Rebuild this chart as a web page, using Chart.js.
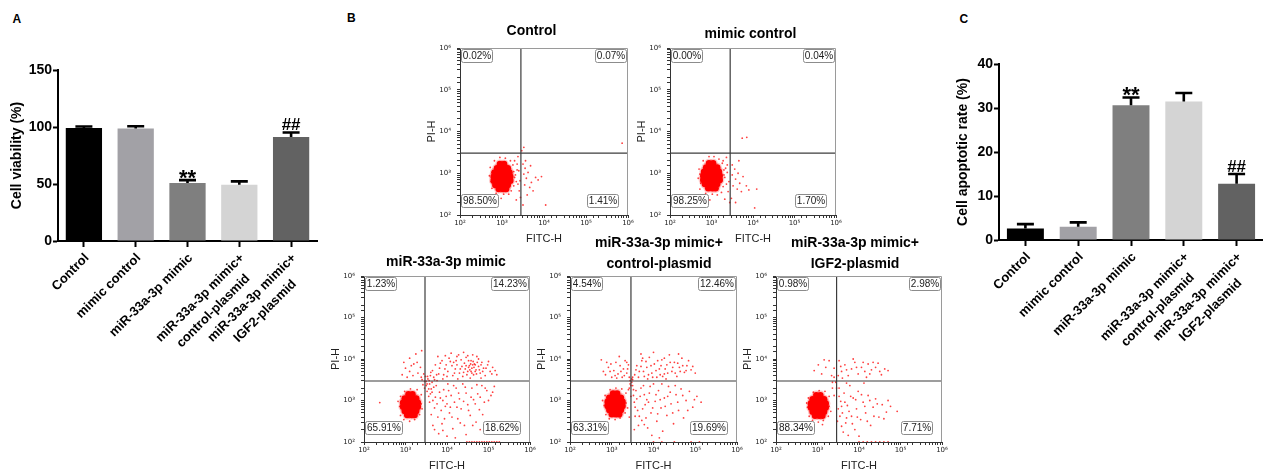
<!DOCTYPE html>
<html><head><meta charset="utf-8">
<script src="https://cdn.jsdelivr.net/npm/chart.js@4.4.1/dist/chart.umd.min.js"></script>
<style>
html,body{margin:0;padding:0;background:#fff;overflow:hidden;width:1263px;height:469px;}
#root{position:relative;width:1263px;height:469px;overflow:hidden;}
canvas{position:absolute;}
.lbl{position:absolute;font:bold 12px 'Liberation Sans',Arial,sans-serif;line-height:12px;color:#000;}
</style></head><body>
<div id="root">
<div class="lbl" style="left:12.5px;top:13.4px">A</div>
<div class="lbl" style="left:347px;top:11.5px">B</div>
<div class="lbl" style="left:959.5px;top:13.4px">C</div>
</div>
<script>
// ---------- DATA ----------
const groupLabels = ['Control', 'mimic control', 'miR-33a-3p mimic', ['miR-33a-3p mimic+', 'control-plasmid'], ['miR-33a-3p mimic+', 'IGF2-plasmid']];

const viabilityMean = [99.2, 98.7, 50.8, 49.3, 91.3];
const viabilitySD = [1.2, 2.0, 2.6, 3.0, 3.9];
const viabilitySig = ['', '', '**', '', '##'];
const viabilityTicks = [0, 50, 100, 150];

const apoptosisMean = [2.6, 3.0, 30.6, 31.5, 12.8];
const apoptosisSD = [1.0, 1.0, 1.8, 1.9, 2.2];
const apoptosisSig = ['', '', '**', '', '##'];
const apoptosisTicks = [0, 10, 20, 30, 40];

const flowTitles = [['Control'], ['mimic control'], ['miR-33a-3p mimic'], ['miR-33a-3p mimic+', 'control-plasmid'], ['miR-33a-3p mimic+', 'IGF2-plasmid']];
// quadrant percentages: [upper-left, upper-right, lower-left, lower-right]
const flowQuadrants = [
  ['0.02%', '0.07%', '98.50%', '1.41%'],
  ['0.00%', '0.04%', '98.25%', '1.70%'],
  ['1.23%', '14.23%', '65.91%', '18.62%'],
  ['4.54%', '12.46%', '63.31%', '19.69%'],
  ['0.98%', '2.98%', '88.34%', '7.71%']
];
const flowDecades = [2, 3, 4, 5, 6];                 // log10 tick decades
const flowGateFITC = [3.45, 3.45, 3.47, 3.46, 3.46]; // log10 gate positions
const flowGatePI = [3.48, 3.48, 3.47, 3.47, 3.47];

// events, as [log10 FITC-H, log10 PI-H]
const ctrlCore = [[2.95,3.22],[3.05,3.22],[2.88,3.12],[2.98,3.12],[3.08,3.12],[3.14,3.12],[2.82,3.02],[2.92,3.02],[3.02,3.02],[3.12,3.02],[3.18,3.02],[2.80,2.92],[2.90,2.92],[3.00,2.92],[3.10,2.92],[3.20,2.92],[2.80,2.82],[2.90,2.82],[3.00,2.82],[3.10,2.82],[3.20,2.82],[2.84,2.72],[2.94,2.72],[3.04,2.72],[3.14,2.72],[2.92,2.62],[3.02,2.62],[3.10,2.62]];
const ctrlSpread = [[2.76,3.02],[2.74,2.80],[2.82,3.30],[2.86,2.52],[2.95,3.38],[3.08,3.36],[3.20,3.30],[3.26,3.20],[3.28,3.04],[3.30,2.90],[3.28,2.70],[3.22,2.58],[3.16,2.50],[3.04,2.50],[2.76,2.64],[3.40,3.06],[3.43,2.82],[3.41,2.58],[3.38,3.40],[3.50,3.22],[3.52,2.98],[3.54,2.72],[3.55,3.12],[3.58,2.88],[3.52,3.62],[3.47,3.54],[3.62,3.02],[3.66,2.66],[3.70,2.78],[3.74,2.58],[3.68,3.18],[3.80,2.90],[3.86,2.84],[3.94,2.92],[4.04,2.24],[3.50,2.24],[3.44,2.42],[3.60,2.48],[3.56,3.30],[5.86,3.72],[3.34,2.36],[2.98,2.40],[3.38,2.74],[3.36,3.22],[3.32,2.96],[3.34,2.80],[3.36,3.08],[3.30,3.30],[2.70,2.94],[2.72,3.14]];
const mimicCtrlCore = [[2.94,3.24],[3.04,3.24],[2.87,3.14],[2.97,3.14],[3.07,3.14],[3.14,3.14],[2.82,3.04],[2.92,3.04],[3.02,3.04],[3.12,3.04],[3.18,3.04],[2.80,2.94],[2.90,2.94],[3.00,2.94],[3.10,2.94],[3.20,2.94],[2.80,2.84],[2.90,2.84],[3.00,2.84],[3.10,2.84],[3.20,2.84],[2.84,2.74],[2.94,2.74],[3.04,2.74],[3.14,2.74],[2.92,2.64],[3.02,2.64],[3.10,2.64]];
const mimicCtrlSpread = [[2.72,2.98],[2.74,2.76],[2.80,3.30],[2.86,2.52],[2.94,3.40],[3.06,3.40],[3.18,3.34],[3.26,3.24],[3.30,3.08],[3.32,2.90],[3.28,2.68],[3.24,2.54],[3.14,2.48],[3.02,2.50],[2.72,2.62],[3.38,3.02],[3.42,2.80],[3.40,2.56],[3.36,3.38],[3.50,3.20],[3.50,2.96],[3.52,2.70],[3.56,3.10],[3.58,2.86],[3.62,2.62],[3.64,3.00],[3.68,2.76],[3.72,2.56],[3.76,2.92],[3.66,3.30],[3.84,2.70],[3.90,2.60],[3.48,2.40],[3.44,2.30],[3.58,2.30],[4.09,2.62],[4.04,2.17],[3.74,3.84],[3.85,3.86],[3.32,2.38],[2.96,2.36],[3.36,2.74],[3.38,3.20],[3.30,2.96],[3.34,3.12],[3.28,3.30],[2.68,2.88],[2.70,3.10]];
const mimicCore = [[3.07,3.15],[3.17,3.15],[2.98,3.05],[3.08,3.05],[3.18,3.05],[3.26,3.05],[2.94,2.95],[3.04,2.95],[3.14,2.95],[3.24,2.95],[3.30,2.95],[2.94,2.85],[3.04,2.85],[3.14,2.85],[3.24,2.85],[3.30,2.85],[2.98,2.75],[3.08,2.75],[3.18,2.75],[3.26,2.75],[3.04,2.65],[3.14,2.65],[3.22,2.65]];
const mimicSpread = [[2.88,3.10],[2.86,2.86],[2.88,2.64],[2.96,2.54],[3.10,2.50],[3.22,2.54],[3.34,2.66],[3.38,2.92],[3.38,3.14],[3.28,3.26],[3.12,3.28],[2.98,3.22],[2.82,2.98],[3.40,2.80],[2.38,2.95],
[3.42,3.38],[3.46,3.30],[3.50,3.46],[3.48,3.58],[3.54,3.52],[3.58,3.40],[3.40,3.50],[3.44,3.64],[3.60,3.60],[3.52,3.22],[3.56,3.10],[3.62,3.28],
[2.92,3.62],[3.00,3.78],[3.10,3.70],[3.20,3.88],[3.30,3.66],[3.36,3.80],[3.10,4.02],[3.25,4.12],[2.96,3.92],[3.39,4.20],[3.04,3.56],[3.18,3.60],[3.28,3.92],[3.38,3.56],[3.14,3.84],
[3.65,3.72],[3.72,3.86],[3.80,3.64],[3.88,3.96],[3.95,3.76],[4.00,3.58],[4.05,4.02],[4.12,3.84],[4.18,3.66],[4.22,3.96],[4.28,4.10],[4.32,3.76],[4.38,3.58],[4.42,3.90],[4.46,4.04],[4.50,3.70],[4.54,3.84],[4.58,3.96],[4.60,3.78],[4.64,3.62],[4.66,3.88],[4.70,3.74],[4.72,4.06],[4.76,3.82],[4.80,3.66],[4.84,3.92],[4.88,3.78],[4.92,3.60],[4.98,3.86],[5.04,3.70],[5.10,3.80],[5.20,3.62],[3.90,3.52],[4.26,3.52],[4.56,3.54],[4.82,3.54],[4.10,4.14],[4.40,4.16],[4.62,4.10],[3.78,4.06],[4.52,3.80],[4.68,3.70],[4.58,3.70],[4.62,3.86],[4.44,3.76],
[3.46,3.46],[3.50,3.36],[3.53,3.58],[3.57,3.48],[3.61,3.68],[3.64,3.44],[3.68,3.56],[3.70,3.50],[3.75,3.62],[3.76,3.48],[3.82,3.78],[3.84,3.90],[3.92,3.62],[3.98,3.86],[4.02,3.70],[4.08,3.94],[4.14,3.60],[4.16,3.92],[4.20,3.76],[4.24,3.86],[4.30,3.66],[4.34,3.98],[4.36,3.82],[4.40,3.68],[4.46,3.84],[4.48,3.62],[4.52,3.96],[4.55,3.74],[4.57,3.88],[4.60,3.66],[4.63,3.94],[4.65,3.80],[4.68,3.86],[4.71,3.64],[4.73,3.92],[4.78,3.74],[4.82,3.86],[4.86,3.70],[4.94,3.78],[5.00,3.94],[5.08,3.64],[5.16,3.72],[4.50,4.08],[4.24,4.06],[3.96,4.08],[4.76,4.00],
[3.58,2.96],[3.64,3.20],[3.70,2.82],[3.74,3.36],[3.78,2.60],[3.84,3.06],[3.88,2.44],[3.92,3.26],[3.96,2.86],[4.02,3.40],[4.06,2.70],[4.10,3.12],[4.14,2.32],[4.18,2.96],[4.22,3.30],[4.26,2.56],[4.30,3.04],[4.34,2.80],[4.38,3.40],[4.42,2.40],[4.46,3.18],[4.50,2.90],[4.56,2.64],[4.60,3.30],[4.64,3.02],[4.70,2.48],[4.74,3.16],[4.78,2.78],[4.84,3.36],[4.90,2.96],[4.96,3.24],[5.06,3.12],[5.14,3.34],[3.66,2.40],[3.80,2.20],[4.00,2.14],[4.20,2.10],[3.62,2.66],[3.72,3.08],[3.98,3.10],
[3.52,3.40],[3.56,3.28],[3.60,3.16],[3.66,3.00],[3.68,3.32],[3.76,2.92],[3.82,3.20],[3.86,2.76],[3.90,3.00],[3.94,2.56],[4.00,2.92],[4.04,3.24],[4.08,2.84],[4.12,2.60],[4.16,3.36],[4.24,2.84],[4.28,3.18],[4.32,2.46],[4.40,2.98],[4.44,3.32],[4.52,2.76],[4.58,3.08],[4.62,2.40],[4.68,2.92],[4.72,3.38],[4.80,3.08],[4.86,2.66],[4.92,3.30],[5.00,3.00],[5.10,3.20],[3.70,2.30],[3.90,2.28],[4.46,2.18],[4.80,2.30],
[4.48,2.0],[4.54,2.0],[4.60,2.0],[4.66,2.0],[4.72,2.0],[4.78,2.0],[4.84,2.0],[4.90,2.0],[4.96,2.0],[5.02,2.0],[5.08,2.0],[5.14,2.0],[5.20,2.0],[5.26,2.0]];
const plasmidCore = [[3.03,3.17],[3.13,3.17],[2.94,3.07],[3.04,3.07],[3.14,3.07],[3.22,3.07],[2.90,2.97],[3.00,2.97],[3.10,2.97],[3.20,2.97],[3.26,2.97],[2.90,2.87],[3.00,2.87],[3.10,2.87],[3.20,2.87],[3.26,2.87],[2.94,2.77],[3.04,2.77],[3.14,2.77],[3.22,2.77],[3.00,2.67],[3.10,2.67],[3.18,2.67]];
const plasmidSpread = [[2.84,3.12],[2.82,2.88],[2.86,2.66],[2.94,2.56],[3.08,2.54],[3.20,2.58],[3.32,2.70],[3.34,2.94],[3.34,3.18],[3.24,3.28],[3.10,3.30],[2.96,3.26],[2.78,3.00],[3.38,2.82],[3.40,3.26],[3.44,3.40],[3.46,3.10],[3.48,3.52],[3.42,2.60],
[2.75,3.98],[2.85,3.62],[2.92,3.80],[3.00,3.56],[3.05,3.72],[3.10,3.92],[3.15,3.64],[3.20,3.84],[3.25,3.56],[3.28,3.76],[3.32,3.96],[3.36,3.66],[3.40,3.86],[3.42,3.56],[2.96,3.70],[3.12,3.54],[3.22,3.70],[3.38,3.76],[2.88,3.92],[3.18,4.06],[2.80,3.70],[2.98,3.88],[3.08,3.60],[3.30,3.60],[3.36,3.92],
[3.55,3.62],[3.60,3.84],[3.66,3.70],[3.72,3.96],[3.78,3.58],[3.84,3.80],[3.90,4.04],[3.96,3.66],[4.02,3.88],[4.08,3.56],[4.14,3.76],[4.20,3.98],[4.26,3.64],[4.32,3.86],[4.38,4.10],[4.44,3.70],[4.50,3.92],[4.56,3.58],[4.62,3.80],[4.68,4.02],[4.74,3.68],[4.80,3.84],[4.90,3.74],[5.00,3.66],[3.70,4.12],[4.00,4.16],[4.30,3.52],[4.60,4.12],[3.86,3.52],[4.16,3.62],
[3.50,3.50],[3.58,3.74],[3.64,3.56],[3.70,3.82],[3.76,3.70],[3.82,3.94],[3.88,3.62],[3.94,3.84],[3.98,3.56],[4.06,3.72],[4.10,3.96],[4.18,3.84],[4.22,3.58],[4.28,3.76],[4.34,3.66],[4.40,3.92],[4.46,3.80],[4.52,3.66],[4.58,3.90],[4.64,3.70],[4.70,3.84],[4.78,3.72],[4.84,3.96],[4.94,3.82],[3.74,4.02],[4.26,4.02],
[3.44,3.48],[3.48,3.44],[3.46,3.36],[3.50,3.56],[3.42,3.30],[3.52,3.26],
[3.54,2.96],[3.58,3.24],[3.62,2.76],[3.68,3.10],[3.72,2.52],[3.76,3.36],[3.80,2.90],[3.86,2.34],[3.90,3.18],[3.94,2.70],[4.00,3.40],[4.04,2.98],[4.08,2.50],[4.12,3.24],[4.18,2.82],[4.22,2.26],[4.26,3.06],[4.32,2.64],[4.36,3.34],[4.42,2.92],[4.48,2.44],[4.54,3.14],[4.60,2.76],[4.66,3.28],[4.72,2.58],[4.78,3.00],[4.86,3.22],[4.94,2.84],[5.04,3.10],[5.14,2.96],[3.64,2.40],[3.96,2.16],[4.14,2.10],[3.56,2.62],[3.84,3.02],[4.40,3.20],
[3.50,3.36],[3.52,3.12],[3.56,2.84],[3.60,3.04],[3.66,2.62],[3.70,3.30],[3.74,2.80],[3.78,3.14],[3.82,2.58],[3.88,2.96],[3.92,3.34],[3.98,2.82],[4.06,3.14],[4.10,2.68],[4.16,3.02],[4.20,3.40],[4.28,2.86],[4.34,3.10],[4.46,2.70],[4.52,3.36],[4.58,2.96],[4.70,3.12],[4.82,2.76],[4.98,3.02],[3.54,2.30],[3.78,2.42],
[4.00,2.0],[4.20,2.0],[4.50,2.0],[4.90,2.0],[5.10,2.0]];
const igf2Core = [[2.97,3.13],[3.07,3.13],[2.88,3.03],[2.98,3.03],[3.08,3.03],[3.16,3.03],[2.84,2.93],[2.94,2.93],[3.04,2.93],[3.14,2.93],[3.20,2.93],[2.84,2.83],[2.94,2.83],[3.04,2.83],[3.14,2.83],[3.20,2.83],[2.88,2.73],[2.98,2.73],[3.08,2.73],[3.16,2.73],[2.94,2.63],[3.04,2.63],[3.12,2.63]];
const igf2Spread = [[2.78,3.06],[2.76,2.84],[2.80,2.62],[2.88,2.52],[3.02,2.48],[3.14,2.52],[3.26,2.62],[3.28,2.86],[3.28,3.10],[3.18,3.22],[3.04,3.24],[2.90,3.20],[2.74,2.94],[3.32,2.74],[3.12,2.42],[3.36,3.30],[3.40,3.12],
[2.92,3.72],[3.02,3.86],[3.10,3.64],[3.20,3.80],[3.28,3.96],[3.34,3.60],[3.40,3.78],[3.16,3.98],
[3.52,3.96],[3.58,3.70],[3.66,3.86],[3.74,3.60],[3.82,3.76],[3.90,3.92],[3.98,3.64],[4.06,3.80],[4.14,3.70],[4.22,3.88],[4.30,3.74],[4.40,3.80],[4.50,3.70],[4.62,3.76],[3.60,3.54],[4.18,3.56],[3.86,4.00],[4.34,3.92],[4.70,3.72],
[3.50,3.60],[3.56,3.82],[3.70,3.74],[3.94,3.80],[4.10,3.92],[4.26,3.64],[4.46,3.90],[4.54,3.62],
[3.44,3.44],[3.40,3.56],[3.46,3.30],[3.36,3.44],
[3.52,3.30],[3.56,2.98],[3.60,2.70],[3.64,3.18],[3.68,2.46],[3.72,2.88],[3.78,3.36],[3.82,2.62],[3.86,3.06],[3.90,2.30],[3.94,2.80],[3.98,3.22],[4.04,2.54],[4.10,2.96],[4.16,2.70],[4.22,3.12],[4.28,2.40],[4.34,2.84],[4.40,3.04],[4.48,2.60],[4.56,2.90],[4.66,2.72],[4.76,2.86],[4.92,2.74],[3.58,2.38],[3.74,2.16],[4.00,2.14],[3.70,3.42],[4.12,3.42],[3.62,2.24],
[3.52,3.10],[3.54,2.62],[3.58,2.86],[3.66,2.96],[3.70,2.58],[3.76,2.74],[3.80,3.10],[3.84,2.44],[3.92,3.02],[3.96,2.60],[4.06,3.14],[4.14,2.86],[4.20,2.50],[4.26,3.00],[4.36,2.62],[4.44,2.92],[4.60,2.56],[4.70,3.00],[3.48,2.50],[3.50,2.80],
[4.00,2.0],[4.10,2.0],[4.20,2.0],[4.30,2.0],[4.40,2.0],[4.50,2.0],[4.60,2.0],[4.70,2.0]];

const flowCores = [ctrlCore, mimicCtrlCore, mimicCore, plasmidCore, igf2Core];
const flowSpreads = [ctrlSpread, mimicCtrlSpread, mimicSpread, plasmidSpread, igf2Spread];

// ---------- STYLE / LAYOUT ----------
const FONT = "'Liberation Sans', Arial, sans-serif";
Chart.defaults.font.family = FONT;
Chart.defaults.color = '#000';
const barFill = ['#000000', '#a2a1a6', '#7f7f7f', '#d4d4d4', '#626262'];

function addCanvas(left, top, w, h) {
  const c = document.createElement('canvas');
  c.width = w; c.height = h;
  c.style.left = left + 'px'; c.style.top = top + 'px';
  c.style.width = w + 'px'; c.style.height = h + 'px';
  document.getElementById('root').appendChild(c);
  return c;
}

const errorBarPlugin = {
  id: 'errorBars',
  afterDatasetsDraw(chart, args, o) {
    const ctx = chart.ctx, y = chart.scales.y;
    const meta = chart.getDatasetMeta(0);
    const vals = chart.data.datasets[0].data;
    ctx.save();
    meta.data.forEach((bar, i) => {
      const base = y.getPixelForValue(vals[i]);
      const top = y.getPixelForValue(vals[i] + o.errors[i]);
      ctx.strokeStyle = '#000'; ctx.lineWidth = 2.6; ctx.lineCap = 'butt';
      ctx.beginPath();
      ctx.moveTo(bar.x, base); ctx.lineTo(bar.x, top);
      ctx.moveTo(bar.x - 8.5, top); ctx.lineTo(bar.x + 8.5, top);
      ctx.stroke();
      const m = o.marks[i];
      if (m) {
        ctx.fillStyle = '#000'; ctx.textAlign = 'center'; ctx.textBaseline = 'alphabetic';
        if (m === '**') { ctx.font = 'bold 22px ' + FONT; ctx.fillText(m, bar.x, top + 5); }
        else { ctx.font = 'bold 17px ' + FONT; ctx.fillText(m, bar.x, top - 2); }
      }
    });
    ctx.restore();
  }
};

// rotated category labels: block right-aligned at the tick, lines centred on each other
const catLabelPlugin = {
  id: 'catLabels',
  afterDraw(chart) {
    const ctx = chart.ctx, xs = chart.scales.x, a = chart.chartArea;
    ctx.save();
    ctx.font = 'bold 13px ' + FONT; ctx.fillStyle = '#000';
    ctx.textAlign = 'center'; ctx.textBaseline = 'middle';
    chart.data.labels.forEach((lab, i) => {
      const lines = Array.isArray(lab) ? lab : [lab];
      const maxW = Math.max(...lines.map(t => ctx.measureText(t).width));
      ctx.save();
      ctx.translate(xs.getPixelForTick(i) + 3, a.bottom + 15);
      ctx.rotate(-Math.PI / 4);
      lines.forEach((t, j) => ctx.fillText(t, -maxW / 2, j * 18.5));
      ctx.restore();
    });
    ctx.restore();
  }
};

function barChart(canvas, o) {
  return new Chart(canvas, {
    type: 'bar',
    data: { labels: groupLabels, datasets: [{ data: o.values, backgroundColor: barFill, borderWidth: 0, barPercentage: 0.7, categoryPercentage: 1 }] },
    options: {
      responsive: false, animation: false, devicePixelRatio: 1,
      layout: { padding: { top: o.padTop, right: o.padRight, left: 0, bottom: 0 } },
      plugins: { legend: { display: false }, tooltip: { enabled: false }, errorBars: { errors: o.errors, marks: o.marks } },
      scales: {
        x: {
          offset: true,
          grid: { offset: false, drawOnChartArea: false, drawTicks: true, tickLength: 6, tickWidth: 2, tickColor: '#000' },
          border: { color: '#000', width: 2 },
          ticks: { display: false },
          afterFit: s => { s.height = o.xH; }
        },
        y: {
          min: 0, max: o.max,
          afterBuildTicks: s => { s.ticks = o.ticks.map(v => ({ value: v })); },
          grid: { drawOnChartArea: false, tickLength: 5, tickWidth: 2, tickColor: '#000' },
          border: { color: '#000', width: 2 },
          ticks: { font: { weight: 'bold', size: 14 }, color: '#000', padding: 1 },
          title: { display: true, text: o.title, font: { weight: 'bold', size: 14 }, color: '#000', padding: { top: o.titlePad, bottom: 0 } },
          afterFit: s => { s.width = o.yW; }
        }
      }
    },
    plugins: [errorBarPlugin, catLabelPlugin]
  });
}

barChart(addCanvas(0, 0, 320, 469), {
  values: viabilityMean, errors: viabilitySD, marks: viabilitySig, ticks: viabilityTicks, max: 150,
  title: 'Cell viability (%)', padTop: 70, padRight: 3, xH: 228, yW: 58, titlePad: 8.6
});
barChart(addCanvas(920, 0, 343, 469), {
  values: apoptosisMean, errors: apoptosisSD, marks: apoptosisSig, ticks: apoptosisTicks, max: 40,
  title: 'Cell apoptotic rate (%)', padTop: 64, padRight: 0, xH: 229, yW: 79, titlePad: 34.6
});

// ---------- FLOW CYTOMETRY PLOTS ----------
const supDigits = { 2: '\u00b2', 3: '\u00b3', 4: '\u2074', 5: '\u2075', 6: '\u2076' };
function decadeLabel(v) {
  const e = Math.log10(v), r = Math.round(e);
  return (Math.abs(e - r) < 1e-6 && flowDecades.includes(r)) ? '10' + supDigits[r] : '';
}

const quadPlugin = {
  id: 'quadLabels',
  afterDatasetsDraw(chart, args, o) {
    const { ctx, chartArea: a } = chart;
    ctx.save();
    ctx.strokeStyle = '#9a9a9a'; ctx.lineWidth = 1;
    ctx.beginPath();
    ctx.moveTo(a.left, a.top + 0.5); ctx.lineTo(a.right - 0.5, a.top + 0.5); ctx.lineTo(a.right - 0.5, a.bottom);
    ctx.stroke();
    ctx.font = '10px ' + FONT; ctx.textBaseline = 'middle'; ctx.textAlign = 'center';
    const h = 13;
    o.labels.forEach((t, i) => {
      const w = Math.round(ctx.measureText(t).width + 3);
      let x, y;
      if (i === 0) { x = a.left + 1; y = a.top + 1; }
      else if (i === 1) { x = a.right - 2 - w; y = a.top + 1; }
      else if (i === 2) { x = a.left + 1; y = a.bottom - 8 - h; }
      else { x = a.right - 10 - w; y = a.bottom - 8 - h; }
      x = Math.round(x); y = Math.round(y);
      ctx.fillStyle = '#fff'; ctx.strokeStyle = '#8c8c8c'; ctx.lineWidth = 1;
      ctx.beginPath(); ctx.roundRect(x + 0.5, y + 0.5, w, h, 2); ctx.fill(); ctx.stroke();
      ctx.fillStyle = '#222'; ctx.fillText(t, x + 0.5 + w / 2, y + 1 + h / 2);
    });
    ctx.restore();
  }
};

const flowTitlePlugin = {
  id: 'flowTitle',
  afterDraw(chart, args, o) {
    const ctx = chart.ctx;
    ctx.save();
    ctx.font = 'bold 14px ' + FONT; ctx.fillStyle = '#000';
    ctx.textAlign = 'center'; ctx.textBaseline = 'middle';
    o.lines.forEach((t, i) => ctx.fillText(t, o.x, o.y + i * o.lh));
    ctx.restore();
  }
};

function logAxis(titleText, titlePadding, fitFn, tickPad) {
  return {
    type: 'logarithmic', min: 100, max: 1e6,
    ticks: { callback: decadeLabel, autoSkip: false, maxRotation: 0, minRotation: 0, padding: tickPad, font: { family: "'DejaVu Sans'", size: 7 }, color: '#222' },
    grid: { drawOnChartArea: false, tickLength: 3, tickColor: '#333', tickWidth: 1 },
    border: { color: '#333', width: 1 },
    title: { display: true, text: titleText, font: { size: 11 }, color: '#222', padding: titlePadding },
    afterFit: fitFn
  };
}

// plot frames on the page: area left/top/right/bottom and title centre
const flowGeom = [
  { aL: 460, aT: 48, aR: 628, aB: 215, tx: 531.5, ty: 31.5 },
  { aL: 670, aT: 48, aR: 836, aB: 215, tx: 750.5, ty: 34.5 },
  { aL: 364, aT: 276, aR: 530, aB: 442, tx: 446, ty: 262.5 },
  { aL: 570, aT: 276, aR: 737, aB: 442, tx: 659, ty: 243 },
  { aL: 776, aT: 276, aR: 942, aB: 442, tx: 855, ty: 243 }
];

const toXY = p => ({ x: Math.pow(10, p[0]), y: Math.pow(10, p[1]) });

flowGeom.forEach((g, k) => {
  const L = g.aL - 52, T = g.aT - 48, W = g.aR - L + 14, H = g.aB + 32 - T;
  const gx = Math.pow(10, flowGateFITC[k]), gy = Math.pow(10, flowGatePI[k]);
  const core = flowCores[k].map(toXY);
  new Chart(addCanvas(L, T, W, H), {
    type: 'scatter',
    data: {
      datasets: [
        { data: [{ x: gx, y: 100 }, { x: gx, y: 1e6 }], showLine: true, borderColor: '#3c3c3c', borderWidth: 1.2, pointRadius: 0 },
        { data: [{ x: 100, y: gy }, { x: 1e6, y: gy }], showLine: true, borderColor: '#3c3c3c', borderWidth: 1.2, pointRadius: 0 },
        { data: core, pointRadius: 3.2, backgroundColor: '#ff0000', borderWidth: 0 },
        { data: core, pointRadius: 4.6, backgroundColor: 'rgba(255,0,0,0.22)', borderWidth: 0 },
        { data: flowSpreads[k].map(toXY), pointRadius: 0.9, backgroundColor: 'rgba(255,0,0,0.75)', borderWidth: 0 }
      ]
    },
    options: {
      responsive: false, animation: false, devicePixelRatio: 1,
      layout: { padding: { left: 0, right: 14, top: 48, bottom: 0 } },
      plugins: {
        legend: { display: false }, tooltip: { enabled: false },
        quadLabels: { labels: flowQuadrants[k] },
        flowTitle: { lines: flowTitles[k], x: g.tx - L, y: g.ty - T, lh: 21 }
      },
      scales: {
        x: logAxis('FITC-H', { top: 0, bottom: 1.9 }, s => { s.height = 32; }, 1),
        y: logAxis('PI-H', { top: 17.4, bottom: 0 }, s => { s.width = 52; }, 6)
      }
    },
    plugins: [quadPlugin, flowTitlePlugin]
  });
});
</script>
</body></html>
